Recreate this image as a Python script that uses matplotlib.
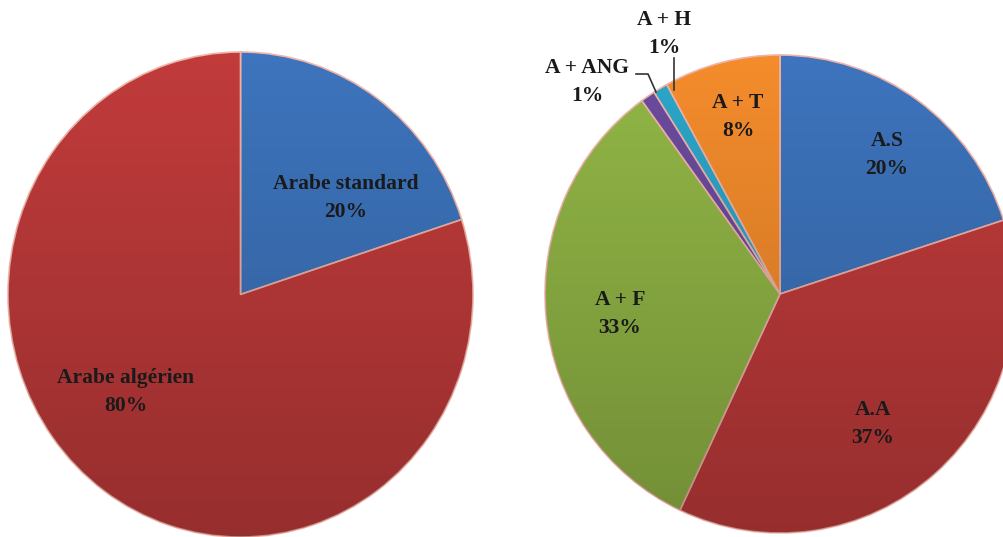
import matplotlib
matplotlib.use("Agg")
import matplotlib.pyplot as plt
import numpy as np

W, H = 1004, 537

left_labels = ["Arabe standard", "Arabe algérien"]
left_values = [20, 80]
left_colors = ["#3d74bd", "#c13b3b"]

right_labels = ["A.S", "A.A", "A + F", "A + ANG", "A + H", "A + T"]
right_values = [20, 37, 33, 1, 1, 8]
right_colors = ["#3d74bd", "#c13b3b", "#92b646", "#6c4b9e", "#2ba6c9", "#f48c2c"]

fig = plt.figure(figsize=(W / 100, H / 100), dpi=100)
fig.patch.set_facecolor("white")

def axes_px(x0, y0, x1, y1):
    return fig.add_axes([x0 / W, 1 - y1 / H, (x1 - x0) / W, (y1 - y0) / H])

def shade(ax, wedges):
    # darkening toward the bottom (pseudo 3D look)
    n = 256
    img = np.zeros((n, 1, 4))
    img[:, 0, 3] = np.linspace(0.0, 0.22, n)
    for w in wedges:
        im = ax.imshow(img, extent=(-1, 1, -1, 1), aspect="auto", origin="upper",
                       zorder=3, interpolation="bilinear")
        im.set_clip_path(w)

FONT = dict(family="Liberation Serif", fontweight="bold", fontsize=15.5, color="#1a1a1a")

def txt(x, y, s, **kw):
    d = dict(FONT); d.update(kw)
    fig.text(x / W, 1 - y / H, s, ha="center", va="center", linespacing=1.5, **d)

# Left pie
axL = axes_px(8, 52, 473, 537)
wl, _ = axL.pie(left_values, colors=left_colors, startangle=90, counterclock=False,
                radius=1, wedgeprops=dict(edgecolor="#f0b4aa", linewidth=1.2))
axL.set_xlim(-1, 1); axL.set_ylim(-1, 1); axL.set_aspect("auto"); axL.axis("off")
shade(axL, wl)

# Right pie
axR = axes_px(545, 55, 1015, 533)
wr, _ = axR.pie(right_values, colors=right_colors, startangle=90, counterclock=False,
                radius=1, wedgeprops=dict(edgecolor="#f0b4aa", linewidth=1.2))
axR.set_xlim(-1, 1); axR.set_ylim(-1, 1); axR.set_aspect("auto"); axR.axis("off")
shade(axR, wr)

txt(346, 198, f"{left_labels[0]}\n{left_values[0]}%")
txt(126, 392, f"{left_labels[1]}\n{left_values[1]}%")

txt(887, 155, f"{right_labels[0]}\n{right_values[0]}%")
txt(873, 424, f"{right_labels[1]}\n{right_values[1]}%")
txt(620, 314, f"{right_labels[2]}\n{right_values[2]}%")
txt(738, 117, f"{right_labels[5]}\n{right_values[5]}%")
txt(587, 82, f"{right_labels[3]}\n{right_values[3]}%")
txt(664, 34, f"{right_labels[4]}\n{right_values[4]}%")

# leader lines (pixel coords)
for xs, ys in [([674, 674], [58, 90]), ([636, 648, 656], [74, 74, 92])]:
    fig.add_artist(plt.Line2D([x / W for x in xs], [1 - y / H for y in ys],
                              color="#333333", linewidth=1.2))

fig.savefig("out.png", dpi=100, facecolor="white")
